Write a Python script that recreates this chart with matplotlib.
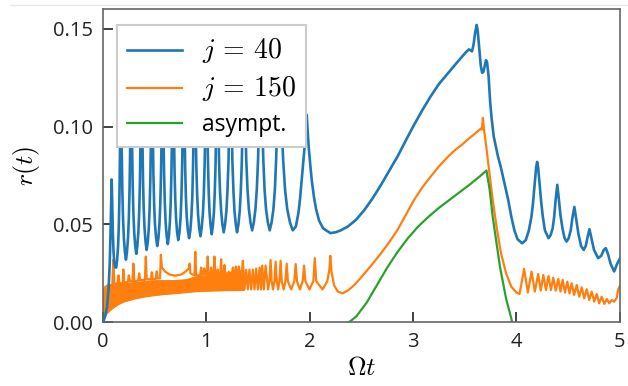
import matplotlib
matplotlib.use("Agg")
import matplotlib.pyplot as plt
from matplotlib.lines import Line2D

plt.rcParams['font.family'] = ['Open Sans', 'DejaVu Sans']
plt.rcParams['mathtext.fontset'] = 'cm'

# j = 40 curve (peaks under the legend are hidden)
blue_t = [0.0, 0.02, 0.04, 0.055, 0.065, 0.074, 0.080, 0.084, 0.089, 0.095, 0.102, 0.110, 0.12, 0.128,
          0.137, 0.146, 0.153, 0.159, 0.164, 0.1685, 0.172, 0.176, 0.181, 0.187, 0.194, 0.202, 0.212, 0.222,
          0.232, 0.242, 0.250, 0.257, 0.263, 0.268, 0.272, 0.276, 0.281, 0.287, 0.294, 0.302, 0.312, 0.322,
          0.332, 0.342, 0.350, 0.357, 0.363, 0.368, 0.372, 0.376, 0.381, 0.387, 0.394, 0.402, 0.412, 0.422,
          0.433, 0.443, 0.451, 0.458, 0.464, 0.469, 0.473, 0.477, 0.482, 0.488, 0.495, 0.503, 0.514, 0.525,
          0.536, 0.546, 0.554, 0.561, 0.567, 0.572, 0.576, 0.580, 0.585, 0.591, 0.598, 0.606, 0.616, 0.627,
          0.637, 0.647, 0.655, 0.662, 0.668, 0.673, 0.677, 0.681, 0.686, 0.692, 0.699, 0.707, 0.717, 0.728,
          0.740, 0.750, 0.758, 0.765, 0.771, 0.776, 0.780, 0.784, 0.789, 0.795, 0.802, 0.810, 0.821, 0.833,
          0.845, 0.855, 0.864, 0.871, 0.877, 0.882, 0.886, 0.890, 0.896, 0.903, 0.911, 0.920, 0.931, 0.943,
          0.954, 0.966, 0.975, 0.983, 0.990, 0.995, 1.000, 1.004, 1.009, 1.016, 1.023, 1.031, 1.042, 1.052,
          1.062, 1.073, 1.081, 1.089, 1.095, 1.100, 1.104, 1.109, 1.116, 1.123, 1.132, 1.143, 1.155, 1.168,
          1.181, 1.194, 1.204, 1.214, 1.221, 1.228, 1.233, 1.238, 1.245, 1.252, 1.262, 1.272, 1.285, 1.297,
          1.310, 1.323, 1.333, 1.343, 1.350, 1.357, 1.362, 1.368, 1.377, 1.386, 1.398, 1.411, 1.427, 1.443,
          1.459, 1.475, 1.488, 1.500, 1.509, 1.518, 1.524, 1.531, 1.540, 1.551, 1.563, 1.577, 1.595, 1.613,
          1.631, 1.649, 1.663, 1.675, 1.686, 1.695, 1.702, 1.713, 1.726, 1.743, 1.761, 1.782, 1.809, 1.836,
          1.866, 1.891, 1.906, 1.921, 1.936, 1.951, 1.961, 1.971, 1.981, 1.991, 2.006, 2.021, 2.041, 2.061,
          2.09, 2.13, 2.20]
blue_r = [0.0, 0.003, 0.008, 0.018, 0.030, 0.048, 0.064, 0.073, 0.062, 0.046, 0.036, 0.030, 0.028, 0.028,
          0.032, 0.039, 0.049, 0.064, 0.084, 0.104, 0.125, 0.108, 0.088, 0.068, 0.053, 0.043, 0.036, 0.032,
          0.036, 0.043, 0.053, 0.068, 0.088, 0.108, 0.125, 0.111, 0.091, 0.071, 0.056, 0.046, 0.039, 0.035,
          0.039, 0.046, 0.056, 0.071, 0.091, 0.111, 0.125, 0.113, 0.093, 0.073, 0.058, 0.048, 0.041, 0.037,
          0.041, 0.048, 0.058, 0.073, 0.093, 0.113, 0.125, 0.115, 0.095, 0.075, 0.060, 0.050, 0.043, 0.039,
          0.043, 0.050, 0.060, 0.075, 0.095, 0.115, 0.125, 0.116, 0.096, 0.076, 0.061, 0.051, 0.044, 0.040,
          0.044, 0.051, 0.061, 0.076, 0.096, 0.116, 0.125, 0.118, 0.098, 0.078, 0.063, 0.053, 0.046, 0.042,
          0.046, 0.053, 0.063, 0.078, 0.098, 0.118, 0.125, 0.119, 0.099, 0.079, 0.064, 0.054, 0.047, 0.043,
          0.047, 0.054, 0.064, 0.079, 0.099, 0.119, 0.125, 0.120, 0.100, 0.080, 0.065, 0.055, 0.048, 0.044,
          0.048, 0.055, 0.065, 0.080, 0.100, 0.120, 0.125, 0.121, 0.101, 0.081, 0.066, 0.056, 0.049, 0.045,
          0.049, 0.056, 0.066, 0.081, 0.101, 0.121, 0.125, 0.122, 0.102, 0.082, 0.067, 0.057, 0.050, 0.046,
          0.050, 0.057, 0.067, 0.082, 0.102, 0.122, 0.125, 0.122, 0.102, 0.082, 0.067, 0.057, 0.050, 0.046,
          0.050, 0.057, 0.067, 0.082, 0.102, 0.122, 0.125, 0.123, 0.103, 0.083, 0.068, 0.058, 0.051, 0.047,
          0.051, 0.058, 0.068, 0.083, 0.103, 0.123, 0.125, 0.123, 0.103, 0.083, 0.068, 0.058, 0.051, 0.047,
          0.051, 0.058, 0.068, 0.083, 0.103, 0.123, 0.125, 0.123, 0.103, 0.083, 0.068, 0.058, 0.051, 0.047,
          0.049, 0.056, 0.063, 0.072, 0.081, 0.090, 0.097, 0.106, 0.097, 0.089, 0.080, 0.072, 0.064, 0.058,
          0.052, 0.048, 0.0456]

blue_t2 = [2.25, 2.30, 2.37, 2.45, 2.53, 2.61, 2.69, 2.77, 2.85, 2.93, 3.01, 3.09, 3.17, 3.25, 3.34,
           3.42, 3.51, 3.54, 3.57, 3.585, 3.60, 3.615, 3.625, 3.64, 3.655, 3.668, 3.68, 3.695, 3.705,
           3.715, 3.73, 3.745, 3.76, 3.78, 3.82, 3.85, 3.88, 3.92, 3.95, 3.98, 4.01, 4.055,
           4.09, 4.12, 4.145, 4.16, 4.175, 4.19, 4.20, 4.21, 4.225, 4.24, 4.255, 4.275, 4.31,
           4.33, 4.35, 4.365, 4.378, 4.395, 4.41, 4.425, 4.445, 4.465, 4.485,
           4.505, 4.525, 4.54, 4.56, 4.58, 4.60, 4.625, 4.65,
           4.67, 4.69, 4.706, 4.725, 4.75, 4.79, 4.82, 4.845, 4.864, 4.885, 4.91, 4.945, 4.975, 5.0]
blue_r2 = [0.046, 0.047, 0.049, 0.0525, 0.0575, 0.0635, 0.0703, 0.0775, 0.0848, 0.093, 0.101, 0.1085,
           0.1155, 0.1218, 0.1275, 0.1325, 0.138, 0.1395, 0.1385, 0.142, 0.148, 0.152, 0.149, 0.140,
           0.131, 0.1275, 0.128, 0.1315, 0.134, 0.133, 0.126, 0.113, 0.104, 0.095, 0.085, 0.079, 0.072,
           0.0626, 0.054, 0.047, 0.0425, 0.0404,
           0.042, 0.047, 0.054, 0.061, 0.070, 0.079, 0.082, 0.079, 0.070, 0.061, 0.054, 0.047, 0.043,
           0.0445, 0.048, 0.054, 0.062, 0.0703, 0.063, 0.055, 0.048, 0.043, 0.0413,
           0.043, 0.047, 0.053, 0.059, 0.052, 0.045, 0.039, 0.037,
           0.039, 0.044, 0.0476, 0.043, 0.037, 0.0328, 0.034, 0.037, 0.0379, 0.035, 0.030, 0.026, 0.030, 0.0325]

# j = 150: dense band at early times (lower / upper edge)
band_t = [0.0, 0.01, 0.03, 0.06, 0.1, 0.15, 0.2, 0.3, 0.4, 0.5, 0.6, 0.7,
          0.8, 0.9, 1.0, 1.1, 1.2, 1.3, 1.36]
band_lo = [0.0, 0.002, 0.0045, 0.006, 0.0078, 0.0095, 0.0107, 0.0122, 0.0133,
           0.014, 0.0146, 0.015, 0.0155, 0.016, 0.0162, 0.0164, 0.0165, 0.0166, 0.0166]
band_hi = [0.015, 0.017, 0.0178, 0.0185, 0.019, 0.0195, 0.02, 0.0205, 0.021,
           0.0215, 0.0215, 0.0215, 0.022, 0.0235, 0.024, 0.0245, 0.025, 0.0255, 0.026]

# j = 150: upper edge with spikes, then resolved oscillations
orange_t = [0.0, 0.02, 0.05, 0.09, 0.10, 0.11, 0.14, 0.15, 0.16, 0.19, 0.197, 0.205,
            0.24, 0.25, 0.26, 0.285, 0.294, 0.303, 0.34, 0.35, 0.36, 0.405, 0.414,
            0.423, 0.465, 0.472, 0.48, 0.51, 0.52, 0.53, 0.552, 0.56, 0.57, 0.60,
            0.64, 0.70, 0.76, 0.80, 0.83, 0.838, 0.846, 0.885, 0.893, 0.901, 0.94,
            0.95, 0.96, 0.975, 0.98, 0.99, 1.006, 1.013, 1.02, 1.04, 1.046, 1.052,
            1.07, 1.078, 1.086, 1.105, 1.11, 1.115, 1.135, 1.143, 1.15, 1.168, 1.175,
            1.182, 1.21, 1.217, 1.224, 1.25, 1.256, 1.262, 1.28, 1.285, 1.29, 1.307,
            1.314, 1.321, 1.345, 1.353,
            1.369, 1.385, 1.401, 1.417, 1.433, 1.45, 1.466, 1.482, 1.498, 1.515,
            1.528, 1.54, 1.556, 1.573, 1.597, 1.610, 1.621, 1.632, 1.645, 1.659,
            1.67, 1.681, 1.694, 1.707, 1.718, 1.729, 1.748, 1.765, 1.777, 1.789,
            1.82, 1.851, 1.864, 1.877, 1.905, 1.932, 1.945, 1.958, 1.997, 2.035,
            2.049, 2.063, 2.124, 2.17, 2.19, 2.199, 2.21, 2.235, 2.27, 2.317, 2.37,
            2.43, 2.49, 2.53, 2.61, 2.69, 2.77, 2.85, 2.93, 3.01, 3.09, 3.17, 3.25,
            3.34, 3.40, 3.466, 3.53, 3.60, 3.655,
            3.665, 3.675, 3.685, 3.70, 3.73, 3.77, 3.81, 3.85, 3.90, 3.95, 4.0,
            4.03, 4.074, 4.11, 4.146, 4.178, 4.21, 4.235, 4.26, 4.285, 4.31, 4.333,
            4.356, 4.38, 4.405, 4.426, 4.447, 4.47, 4.492, 4.513, 4.534, 4.558,
            4.583, 4.607, 4.631, 4.655, 4.68, 4.704, 4.728, 4.752, 4.777, 4.80,
            4.825, 4.85, 4.874, 4.898, 4.922, 4.945, 4.97, 4.985, 5.0]
orange_r = [0.015, 0.018, 0.019, 0.019, 0.032, 0.0195, 0.0198, 0.024, 0.020, 0.020,
            0.027, 0.0205, 0.0205, 0.024, 0.021, 0.021, 0.030, 0.021, 0.0213, 0.025,
            0.0215, 0.0217, 0.0336, 0.022, 0.022, 0.0256, 0.022, 0.0222, 0.026,
            0.0225, 0.0225, 0.0345, 0.028, 0.026, 0.0245, 0.0238, 0.0245, 0.026,
            0.0275, 0.030, 0.025, 0.024, 0.036, 0.024, 0.024, 0.028, 0.0242, 0.0245,
            0.0276, 0.0245, 0.0245, 0.0336, 0.0245, 0.0245, 0.028, 0.0245, 0.0245,
            0.0336, 0.0245, 0.025, 0.027, 0.025, 0.025, 0.0322, 0.025, 0.025, 0.0293,
            0.025, 0.025, 0.0259, 0.025, 0.0255, 0.028, 0.0255, 0.0255, 0.0285,
            0.0255, 0.026, 0.0285, 0.026, 0.026, 0.0315,
            0.0168, 0.0268, 0.0168, 0.027, 0.0168, 0.027, 0.0168, 0.0275, 0.0168,
            0.028, 0.0168, 0.029, 0.0168, 0.029, 0.0168, 0.021, 0.0319, 0.021,
            0.0168, 0.021, 0.031, 0.021, 0.0168, 0.021, 0.0315, 0.021, 0.0168,
            0.021, 0.030, 0.021, 0.0168, 0.021, 0.0298, 0.021, 0.0168, 0.021,
            0.029, 0.021, 0.0168, 0.021, 0.0328, 0.021, 0.0168, 0.021, 0.027,
            0.034, 0.026, 0.019, 0.0158, 0.0148, 0.0163,
            0.019, 0.0225, 0.025, 0.030, 0.0353, 0.041, 0.0473, 0.055, 0.0626, 0.069, 0.0745, 0.0797,
            0.0848, 0.0878, 0.0905, 0.0935, 0.0965, 0.0990,
            0.0985, 0.1045, 0.099, 0.093, 0.080, 0.0626, 0.048, 0.0354, 0.025, 0.0182, 0.0152,
            0.0145, 0.0273, 0.0152, 0.0259, 0.0157, 0.0247, 0.0162, 0.0242,
            0.0165, 0.0237, 0.0165, 0.0228, 0.0162, 0.0222, 0.0157, 0.0217, 0.0152,
            0.0208, 0.0148, 0.0200, 0.014, 0.0191, 0.0131, 0.0179, 0.0123, 0.0169,
            0.0114, 0.0157, 0.0106, 0.0145, 0.0097, 0.0131, 0.0094, 0.0119, 0.0097,
            0.0114, 0.0105, 0.0125, 0.017, 0.0185]

# asymptotic curve
green_t = [2.38, 2.45, 2.55, 2.65, 2.75, 2.85, 2.95, 3.05, 3.15, 3.25, 3.35,
           3.45, 3.55, 3.65, 3.71, 3.74, 3.77, 3.84, 3.90, 3.95, 3.97]
green_r = [0.0, 0.003, 0.010, 0.019, 0.028, 0.036, 0.043, 0.049, 0.054, 0.0585,
           0.0625, 0.0665, 0.0705, 0.0748, 0.0776, 0.068, 0.054, 0.0285, 0.012,
           0.002, -0.003]

fig = plt.figure(figsize=(6.28, 3.86), dpi=100)
ax = fig.add_axes([0.164, 0.165, 0.823, 0.811])

ax.fill_between(band_t, band_lo, band_hi, color='#ff7f0e', lw=1.0)
ax.plot(band_t, band_lo, color='#ff7f0e', lw=1.2)
l2, = ax.plot(orange_t, orange_r, color='#ff7f0e', lw=1.6, label=r'$j \,=\, 150$')
l3, = ax.plot(green_t, green_r, color='#2ca02c', lw=1.6, label='asympt.')
l1, = ax.plot(blue_t + blue_t2, blue_r + blue_r2, color='#1f77b4', lw=1.9,
              label=r'$j \,=\, 40$', zorder=3)

ax.set_xlim(0, 5)
ax.set_ylim(0, 0.16)
ax.set_xticks([0, 1, 2, 3, 4, 5])
ax.set_yticks([0.0, 0.05, 0.10, 0.15])
ax.set_yticklabels(['0.00', '0.05', '0.10', '0.15'])
ax.tick_params(direction='in', length=7, width=1.2, labelsize=14.5,
               colors='#222222', pad=7)
for sp in ax.spines.values():
    sp.set_color('#666666')
    sp.set_linewidth(1.2)

ax.set_xlabel(r'$\Omega t$', fontsize=18.5, labelpad=3)
ax.set_ylabel(r'$r(t)$', fontsize=18.5, labelpad=8)

leg = ax.legend(handles=[l1, l2, l3], loc='upper left',
                bbox_to_anchor=(0.005, 0.985), fontsize=16.5,
                handlelength=2.4, handletextpad=0.85, labelspacing=0.42,
                framealpha=1.0, fancybox=False, borderpad=0.45)
leg.get_frame().set_edgecolor('#cccccc')
leg.get_frame().set_linewidth(1.5)
leg.set_zorder(5)
for txt in leg.get_texts()[:2]:
    txt.set_fontsize(20)

# faint line along the top of the image
fig.add_artist(Line2D([0.016, 1.0], [0.987, 0.987], color='#e6e6e6', lw=1.0))

fig.savefig('out.png', dpi=100)
